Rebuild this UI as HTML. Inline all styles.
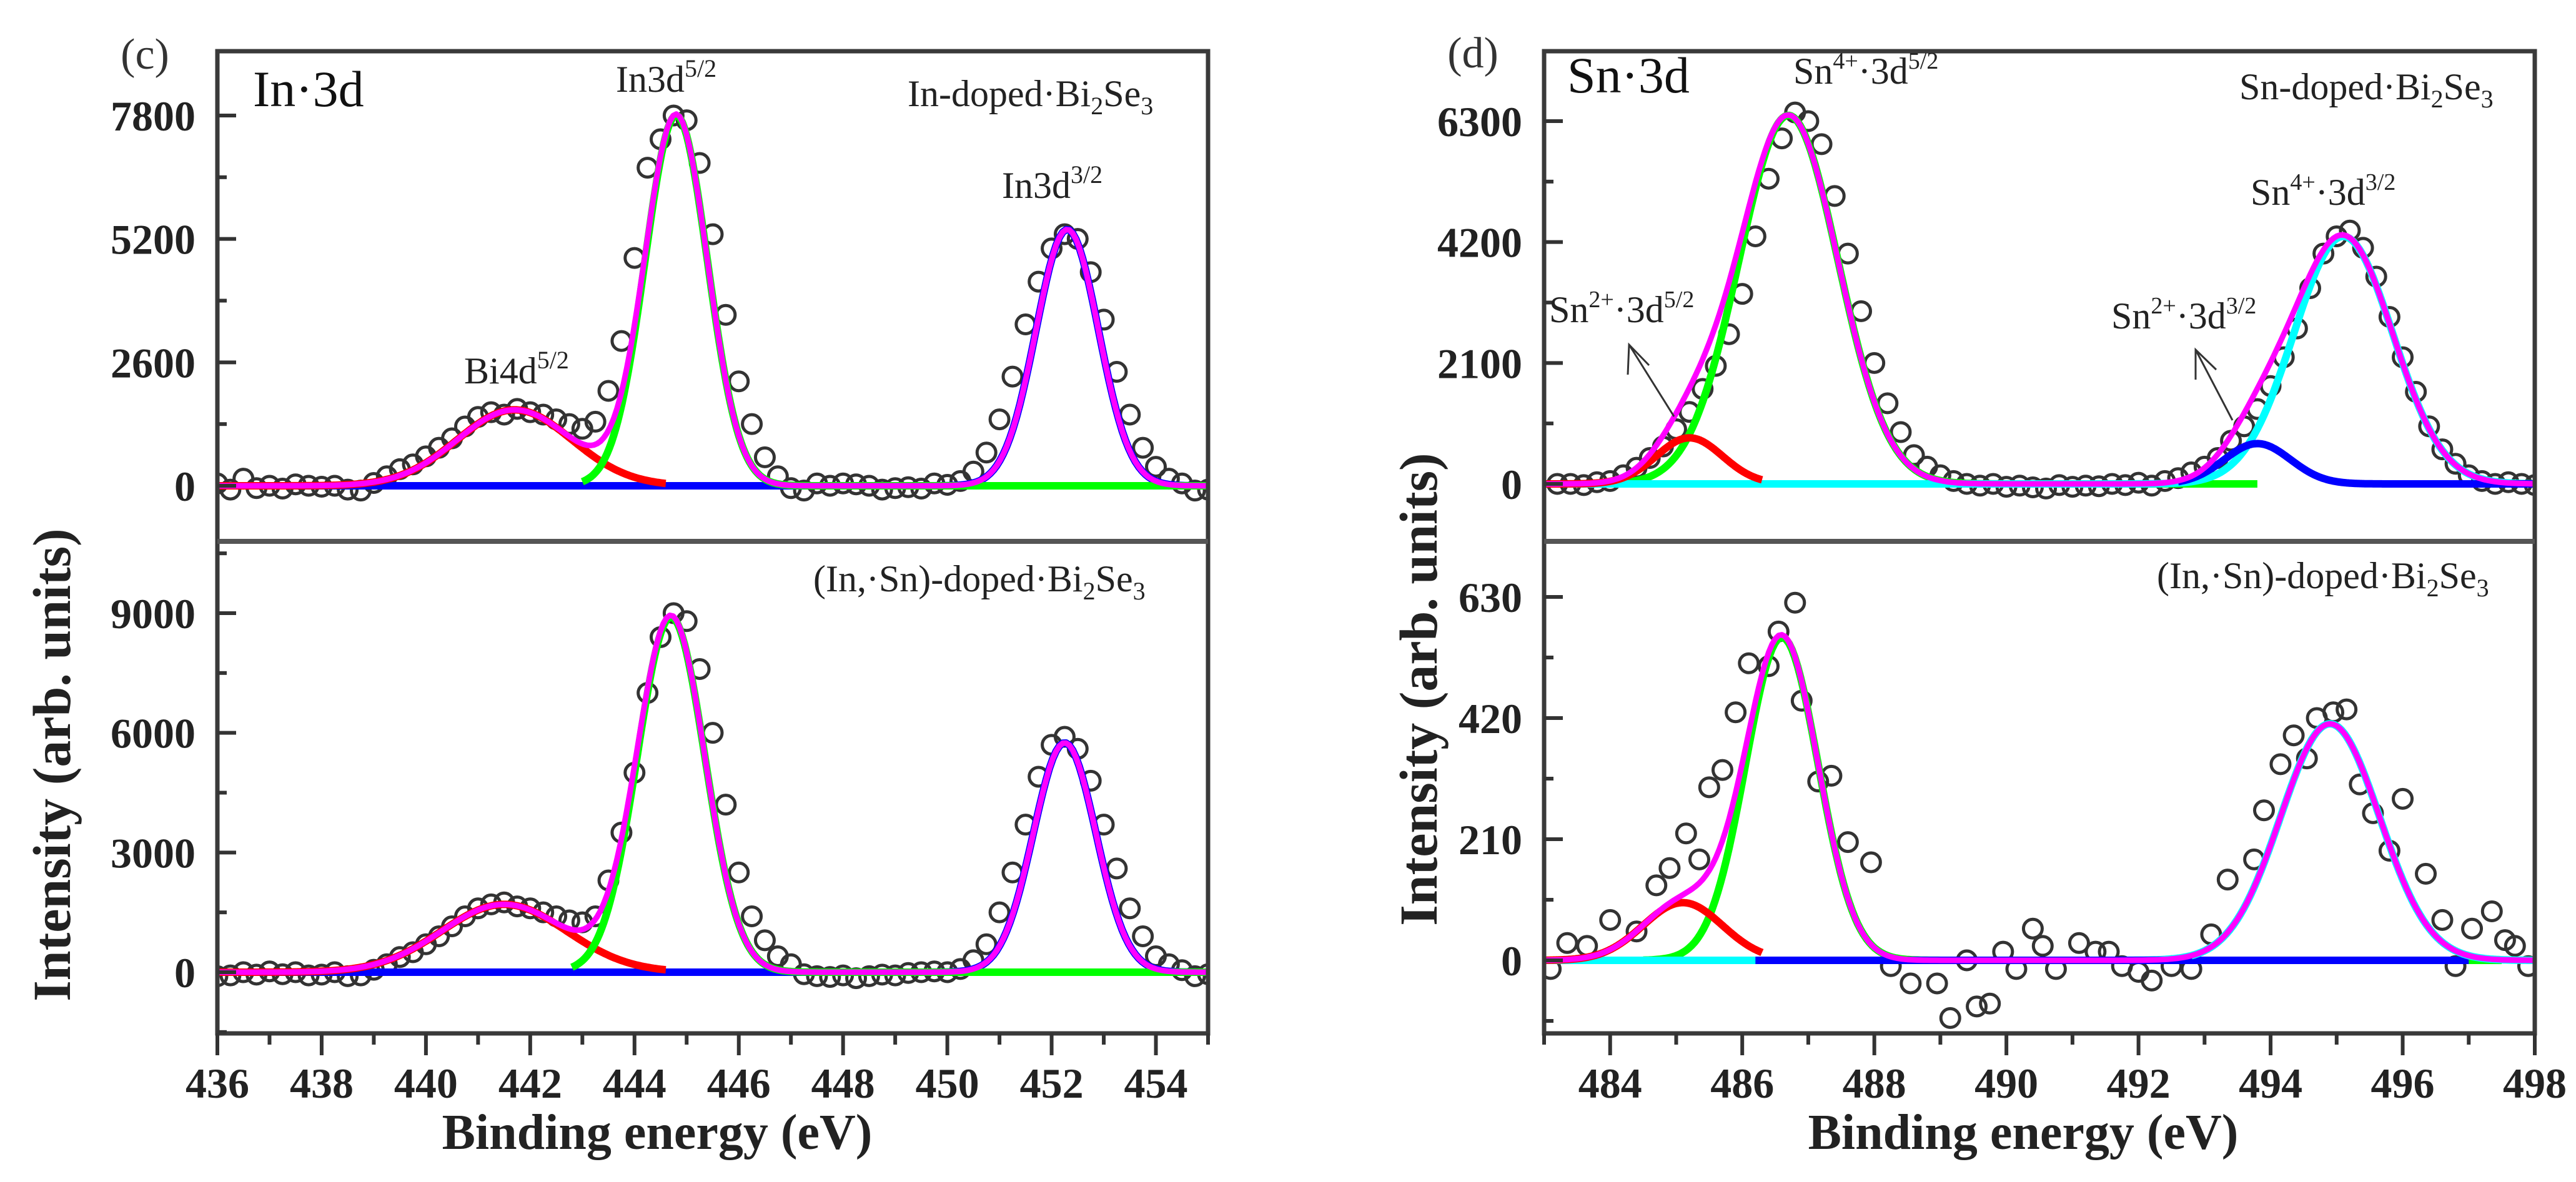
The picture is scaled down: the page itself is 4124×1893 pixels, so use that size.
<!DOCTYPE html>
<html><head><meta charset="utf-8">
<style>
html,body{margin:0;padding:0;background:#fff;}
svg{display:block;font-family:"Liberation Serif",serif;}
</style></head>
<body>
<svg id="fig" width="4124" height="1893" viewBox="0 0 4124 1893" xmlns="http://www.w3.org/2000/svg">
  <rect width="4124" height="1893" fill="#fff"/>
  <g id="layer"></g>
  <text x="232" y="110" font-size="70" text-anchor="middle" fill="#333">(c)</text>
  <text x="405" y="170" font-size="82" fill="#111">In·3d</text>
  <text x="986" y="147" font-size="60" fill="#222">In3d<tspan font-size="40" dy="-24">5/2</tspan></text>
  <text x="1453" y="170" font-size="60" fill="#222">In-doped·Bi<tspan font-size="40" dy="13">2</tspan><tspan dy="-13">Se</tspan><tspan font-size="40" dy="13">3</tspan></text>
  <text x="1604" y="317" font-size="60" fill="#222">In3d<tspan font-size="40" dy="-24">3/2</tspan></text>
  <text x="743" y="614" font-size="60" fill="#222">Bi4d<tspan font-size="40" dy="-24">5/2</tspan></text>
  <text x="1302" y="947" font-size="60" fill="#222">(In,·Sn)-doped·Bi<tspan font-size="40" dy="13">2</tspan><tspan dy="-13">Se</tspan><tspan font-size="40" dy="13">3</tspan></text>
  <text transform="translate(112,1225) rotate(-90)" font-size="86" font-weight="bold" text-anchor="middle" fill="#222">Intensity (arb. units)</text>
  <text x="1052" y="1840" font-size="80" font-weight="bold" text-anchor="middle" fill="#222">Binding energy (eV)</text>
  <text x="2358" y="108" font-size="70" text-anchor="middle" fill="#333">(d)</text>
  <text x="2509" y="148" font-size="82" fill="#111">Sn·3d</text>
  <text x="2871" y="134" font-size="60" fill="#222">Sn<tspan font-size="38" dy="-24">4+</tspan><tspan dy="24">·3d</tspan><tspan font-size="38" dy="-24">5/2</tspan></text>
  <text x="3585" y="159" font-size="60" fill="#222">Sn-doped·Bi<tspan font-size="40" dy="13">2</tspan><tspan dy="-13">Se</tspan><tspan font-size="40" dy="13">3</tspan></text>
  <text x="3603" y="328" font-size="60" fill="#222">Sn<tspan font-size="38" dy="-24">4+</tspan><tspan dy="24">·3d</tspan><tspan font-size="38" dy="-24">3/2</tspan></text>
  <text x="2480" y="516" font-size="60" fill="#222">Sn<tspan font-size="38" dy="-24">2+</tspan><tspan dy="24">·3d</tspan><tspan font-size="38" dy="-24">5/2</tspan></text>
  <text x="3380" y="526" font-size="60" fill="#222">Sn<tspan font-size="38" dy="-24">2+</tspan><tspan dy="24">·3d</tspan><tspan font-size="38" dy="-24">3/2</tspan></text>
  <g stroke="#333" stroke-width="3" fill="none">
    <line x1="2680" y1="667" x2="2608" y2="552"/><polyline points="2606,600 2608,552 2640,585"/>
  </g>
  <g stroke="#333" stroke-width="3" fill="none">
    <line x1="3574" y1="673" x2="3515" y2="560"/><polyline points="3515,608 3515,560 3548,592"/>
  </g>
  <text x="3453" y="942" font-size="60" fill="#222">(In,·Sn)-doped·Bi<tspan font-size="40" dy="13">2</tspan><tspan dy="-13">Se</tspan><tspan font-size="40" dy="13">3</tspan></text>
  <text transform="translate(2300,1104) rotate(-90)" font-size="86" font-weight="bold" text-anchor="middle" fill="#222">Intensity (arb. units)</text>
  <text x="3239" y="1840" font-size="80" font-weight="bold" text-anchor="middle" fill="#222">Binding energy (eV)</text>
</svg>
<script>
// ---------- Panel (c) data ----------
const cXTicks = [436,438,440,442,444,446,448,450,452,454];
const cTopYTicks = [0,2600,5200,7800];
const cBotYTicks = [0,3000,6000,9000];
const cTopX = [436,436.25,436.5,436.75,437,437.25,437.5,437.75,438,438.25,438.5,438.75,439,439.25,439.5,439.75,440,440.25,440.5,440.75,441,441.25,441.5,441.75,442,442.25,442.5,442.75,443,443.25,443.5,443.75,444,444.25,444.5,444.75,445,445.25,445.5,445.75,446,446.25,446.5,446.75,447,447.25,447.5,447.75,448,448.25,448.5,448.75,449,449.25,449.5,449.75,450,450.25,450.5,450.75,451,451.25,451.5,451.75,452,452.25,452.5,452.75,453,453.25,453.5,453.75,454,454.25,454.5,454.75,455];
const cTopY = [50,-80,150,-50,0,-60,30,0,-20,0,-80,-100,60,200,350,450,620,800,1000,1250,1450,1550,1500,1620,1550,1500,1400,1300,1200,1350,2000,3050,4800,6700,7300,7800,7700,6800,5300,3600,2200,1300,600,200,-50,-100,50,0,50,30,0,-80,-50,-30,-60,50,20,100,300,700,1400,2300,3400,4300,5000,5300,5200,4500,3500,2400,1500,800,400,150,50,-100,-80];
const cBotY = [-100,-80,0,-60,20,-50,0,-80,-60,0,-100,-80,60,200,380,500,700,900,1150,1400,1600,1700,1750,1650,1600,1500,1400,1300,1250,1400,2300,3500,5000,7000,8400,9000,8800,7600,6000,4200,2500,1400,800,400,200,-50,-100,-120,-80,-150,-100,-60,-80,-20,0,20,0,80,300,700,1500,2500,3700,4900,5700,5900,5600,4800,3700,2600,1600,900,400,200,50,-100,-50];
const cTopRed = [441.7,1600,1.1], cTopGreen = [444.8,7800,0.6], cTopBlue = [452.3,5400,0.6];
const cBotRed = [441.5,1700,1.2], cBotGreen = [444.7,8900,0.65], cBotBlue = [452.25,5750,0.6];
// ---------- Panel (d) data ----------
const dXTicks = [484,486,488,490,492,494,496,498];
const dTopYTicks = [0,2100,4200,6300];
const dBotYTicks = [0,210,420,630];
const dTopX = [483.2,483.4,483.6,483.8,484,484.2,484.4,484.6,484.8,485,485.2,485.4,485.6,485.8,486,486.2,486.4,486.6,486.8,487,487.2,487.4,487.6,487.8,488,488.2,488.4,488.6,488.8,489,489.2,489.4,489.6,489.8,490,490.2,490.4,490.6,490.8,491,491.2,491.4,491.6,491.8,492,492.2,492.4,492.6,492.8,493,493.2,493.4,493.6,493.8,494,494.2,494.4,494.6,494.8,495,495.2,495.4,495.6,495.8,496,496.2,496.4,496.6,496.8,497,497.2,497.4,497.6,497.8,498];
const dTopY = [0,0,-20,30,50,150,280,450,650,950,1250,1650,2050,2600,3300,4300,5300,6000,6450,6300,5900,5000,4000,3000,2100,1400,900,500,300,150,50,0,-30,0,-50,-30,-60,-80,-20,-50,-30,-40,0,-20,20,-30,50,100,200,300,450,750,1000,1300,1700,2200,2700,3400,4000,4300,4400,4100,3600,2900,2200,1600,1000,600,350,150,50,0,30,0,-20];
const dBotX = [483.1,483.35,483.65,484.0,484.4,484.7,484.9,485.15,485.35,485.5,485.7,485.9,486.1,486.4,486.55,486.8,486.9,487.15,487.35,487.6,487.95,488.25,488.55,488.95,489.15,489.4,489.55,489.75,489.95,490.15,490.4,490.55,490.75,491.1,491.35,491.55,491.75,492.0,492.2,492.5,492.8,493.1,493.35,493.75,493.9,494.15,494.35,494.55,494.7,494.95,495.15,495.35,495.55,495.8,496.0,496.35,496.6,496.8,497.05,497.35,497.55,497.7,497.9];
const dBotY = [-15,30,25,70,50,130,160,220,175,300,330,430,515,510,570,620,450,310,320,205,170,-10,-40,-40,-100,0,-80,-75,15,-15,55,25,-15,30,15,15,-10,-20,-35,-10,-15,45,140,175,260,340,390,350,420,430,435,305,255,190,280,150,70,-10,55,85,35,25,-10];
const dTopRed = [485.2,800,0.5], dTopGreen = [486.7,6400,0.75], dTopBlue = [493.8,700,0.5], dTopCyan = [495.1,4300,0.75];
const dBotRed = [485.1,100,0.6], dBotGreen = [486.6,560,0.55], dBotBlue = [494.9,0,0.6], dBotCyan = [494.9,410,0.75];

const NS = "http://www.w3.org/2000/svg";
const layer = document.getElementById('layer');
function mk(tag, attrs, parent){ const e=document.createElementNS(NS,tag); for(const k in attrs) e.setAttribute(k,attrs[k]); (parent||layer).appendChild(e); return e; }
function lin(d0,d1,r0,r1){ return v => r0 + (v-d0)*(r1-r0)/(d1-d0); }
function gauss(p,x){ return p[1]*Math.exp(-((x-p[0])**2)/(2*p[2]*p[2])); }

function drawCurve(sx, sy, comps, x0, x1, color, width, name, g){
  let d=''; const n=300;
  for(let i=0;i<=n;i++){ const x=x0+(x1-x0)*i/n; let y=0; comps.forEach(c=>{y+=gauss(c,x);}); d+=(i?'L':'M')+sx(x).toFixed(1)+','+sy(y).toFixed(1); }
  const p = mk('path',{d:d,fill:'none',stroke:color,'stroke-width':width,'stroke-linejoin':'round'},g);
  
  
}
function drawPoints(sx, sy, xs, ys, name, g){
  const grp = mk('g',{},g);
  
  
  xs.forEach((x,i)=>{
    const c = mk('circle',{cx:sx(x),cy:sy(ys[i]),r:15,fill:'none',stroke:'#333','stroke-width':5},grp);
    
    
  });
}
function yAxis(sy, ticks, minorStep, lo, hi, left, labelX, name){
  const g = mk('g',{});
  
  
  for(let v=Math.ceil(lo/minorStep)*minorStep; v<=hi; v+=minorStep){
    const major = ticks.includes(v);
    const t = mk('line',{x1:left,x2:left+(major?30:15),y1:sy(v),y2:sy(v),stroke:'#333','stroke-width':6},g);
    
    
  }
  ticks.forEach(v=>{
    const t = mk('text',{x:labelX,y:sy(v)+24,'font-size':68,'font-weight':'bold','text-anchor':'end',fill:'#222'},g);
    t.textContent = v;
    
    
  });
}
function xAxis(sx, ticks, x0, x1, bottom, name){
  const g = mk('g',{});
  
  
  for(let v=x0; v<=x1; v+=1){
    const major = ticks.includes(v);
    const t = mk('line',{x1:sx(v),x2:sx(v),y1:bottom,y2:bottom+(major?35:18),stroke:'#333','stroke-width':6},g);
    
    
  }
  ticks.forEach(v=>{
    const t = mk('text',{x:sx(v),y:bottom+103,'font-size':68,'font-weight':'bold','text-anchor':'middle',fill:'#222'},g);
    t.textContent = v;
    
    
  });
}
function frame(L,R,T,M,B,name){
  const g = mk('g',{fill:'none'});
  
  
  mk('rect',{x:L,y:T,width:R-L,height:B-T,stroke:'#3a3a3a','stroke-width':7},g);
  mk('line',{x1:L,x2:R,y1:M,y2:M,stroke:'#555','stroke-width':8},g);
}

(function(){
  const L=348,R=1934,T=82,M=867,B=1655;
  const sx = lin(436,455,L,R);
  const syT = lin(0,7800,778,185);
  const syB = lin(0,9000,1557,982);
  const clipT = mk('clipPath',{id:'clipCT'}); mk('rect',{x:L,y:T,width:R-L,height:M-T},clipT);
  const clipB = mk('clipPath',{id:'clipCB'}); mk('rect',{x:L,y:M,width:R-L,height:B-M},clipB);
  const gT = mk('g',{'clip-path':'url(#clipCT)'});
  
  
  drawPoints(sx,syT,cTopX,cTopY,'data-points-in-doped',gT);
  drawCurve(sx,syT,[cTopBlue],436,455,'#0000ff',12,'fit-in3d32',gT);
  drawCurve(sx,syT,[cTopRed],436,444.6,'#ff0000',12,'fit-bi4d52',gT);
  drawCurve(sx,syT,[cTopGreen],443,455,'#00ff00',12,'fit-in3d52',gT);
  drawCurve(sx,syT,[cTopRed,cTopGreen,cTopBlue],436,455,'#ff00ff',9,'fit-envelope-in-doped',gT);
  const gB = mk('g',{'clip-path':'url(#clipCB)'});
  
  
  drawPoints(sx,syB,cTopX,cBotY,'data-points-insn-doped-c',gB);
  drawCurve(sx,syB,[cBotBlue],436,455,'#0000ff',12,'fit-in3d32-b',gB);
  drawCurve(sx,syB,[cBotRed],436,444.6,'#ff0000',12,'fit-bi4d52-b',gB);
  drawCurve(sx,syB,[cBotGreen],442.8,455,'#00ff00',12,'fit-in3d52-b',gB);
  drawCurve(sx,syB,[cBotRed,cBotGreen,cBotBlue],436,455,'#ff00ff',9,'fit-envelope-insn-c',gB);
  frame(L,R,T,M,B,'frame-c');
  yAxis(syT,cTopYTicks,1300,0,8800,L,313,'y-axis-top-c');
  yAxis(syB,cBotYTicks,1500,-1500,10700,L,313,'y-axis-bottom-c');
  xAxis(sx,cXTicks,436,455,B,'x-axis-c');
})();

(function(){
  const L=2472,R=4058,T=82,M=867,B=1655;
  const sx = lin(483,498,L,R);
  const syT = lin(0,6300,775,194);
  const syB = lin(0,630,1538,956);
  const clipT = mk('clipPath',{id:'clipDT'}); mk('rect',{x:L,y:T,width:R-L,height:M-T},clipT);
  const clipB = mk('clipPath',{id:'clipDB'}); mk('rect',{x:L,y:M,width:R-L,height:B-M},clipB);
  const gT = mk('g',{'clip-path':'url(#clipDT)'});
  
  
  drawPoints(sx,syT,dTopX,dTopY,'data-points-sn-doped',gT);
  drawCurve(sx,syT,[dTopGreen],484,493.8,'#00ff00',12,'fit-sn4-3d52',gT);
  drawCurve(sx,syT,[dTopCyan],483,498,'#00ffff',12,'fit-sn4-3d32',gT);
  drawCurve(sx,syT,[dTopBlue],492.6,498,'#0000ff',12,'fit-sn2-3d32',gT);
  drawCurve(sx,syT,[dTopRed],483,486.3,'#ff0000',12,'fit-sn2-3d52',gT);
  drawCurve(sx,syT,[dTopRed,dTopGreen,dTopBlue,dTopCyan],483,498,'#ff00ff',9,'fit-envelope-sn-doped',gT);
  const gB = mk('g',{'clip-path':'url(#clipDB)'});
  
  
  drawPoints(sx,syB,dBotX,dBotY,'data-points-insn-doped-d',gB);
  drawCurve(sx,syB,[dBotGreen],484.5,497.5,'#00ff00',12,'fit-sn4-3d52-b',gB);
  drawCurve(sx,syB,[dBotCyan],483,492.8,'#00ffff',12,'fit-sn4-3d32-b-left',gB);
  drawCurve(sx,syB,[dBotBlue],486.2,497,'#0000ff',12,'fit-sn2-3d32-b',gB);
  drawCurve(sx,syB,[dBotCyan],492.8,498,'#00ffff',12,'fit-sn4-3d32-b',gB);
  drawCurve(sx,syB,[dBotRed],483,486.3,'#ff0000',12,'fit-sn2-3d52-b',gB);
  drawCurve(sx,syB,[dBotRed,dBotGreen,dBotCyan],483,498,'#ff00ff',9,'fit-envelope-insn-d',gB);
  frame(L,R,T,M,B,'frame-d');
  yAxis(syT,dTopYTicks,1050,0,7100,L,2437,'y-axis-top-d');
  yAxis(syB,dBotYTicks,105,-105,730,L,2437,'y-axis-bottom-d');
  xAxis(sx,dXTicks,483,498,B,'x-axis-d');
})();
</script>
</body></html>
